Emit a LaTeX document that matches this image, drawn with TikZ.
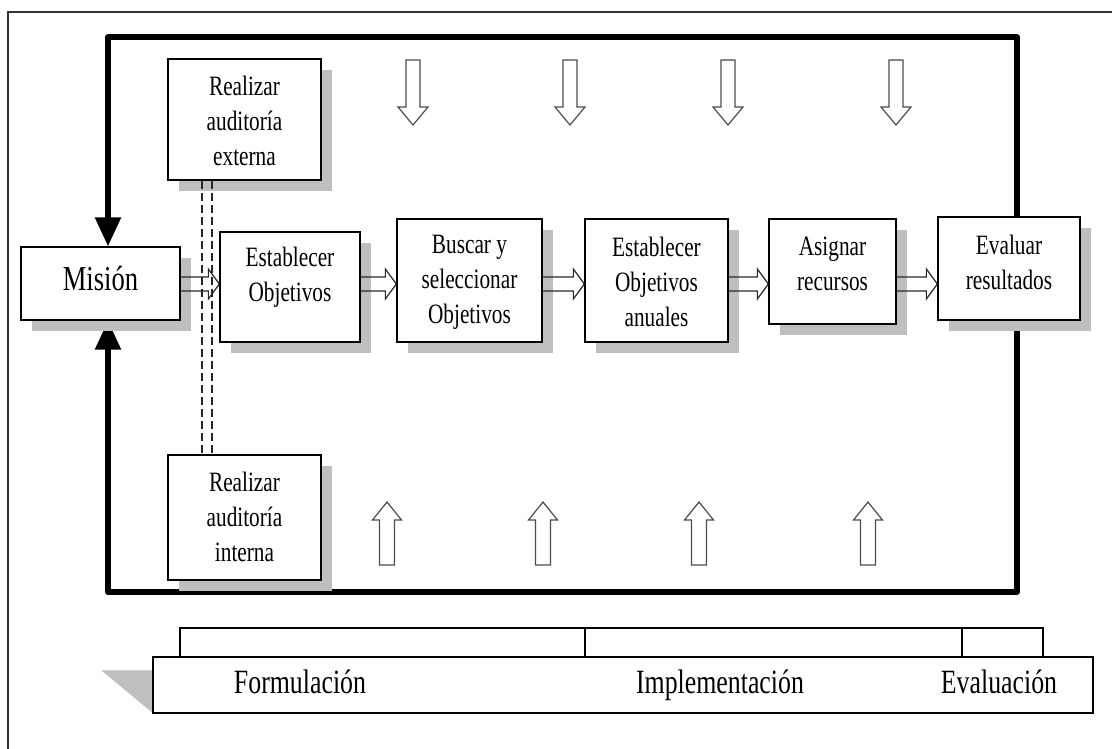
\documentclass[tikz,border=0pt]{standalone}
\usepackage{fontspec}
\newfontfamily\condserif[FakeStretch=0.76]{Liberation Serif}
\usetikzlibrary{arrows.meta,shadows,calc,backgrounds}

% hollow horizontal flow arrow from the east side of #1 to the west side of #2
\newcommand\flowarrow[2]{%
  \draw[flowline] let \p1=(#1.east), \p2=(#2.west) in
    (\x1,-277pt) -- (\x2-11pt,-277pt) -- (\x2-11pt,-269pt) -- (\x2,-284pt)
    -- (\x2-11pt,-299pt) -- (\x2-11pt,-291pt) -- (\x1,-291pt);}

\tikzset{
  frame/.style={draw=black!80,line width=1.3pt},
  loopline/.style={line width=5.5pt,line join=round,
    {Triangle[length=29pt,width=25pt]}-{Triangle[length=29pt,width=25pt]}},
  stepbox/.style={draw=black,line width=1.3pt,fill=white,inner sep=0pt,
    drop shadow={shadow xshift=11pt,shadow yshift=-11pt,fill=black!25,opacity=1}},
  boxtext/.style={font=\condserif\fontsize{28}{35}\selectfont,align=center,inner sep=0pt},
  bigtext/.style={font=\condserif\fontsize{35}{40}\selectfont,inner sep=0pt},
  phasetext/.style={font=\condserif\fontsize{34}{40}\selectfont,inner sep=0pt,anchor=base},
  flowline/.style={draw=black!85,line width=1.2pt,line join=miter},
  blockline/.style={draw=black!70,line width=1.2pt,fill=white,line join=miter},
  dashline/.style={draw=black!85,line width=1.2pt,dash pattern=on 8pt off 4pt},
  bracket/.style={draw=black,line width=1.3pt,inner sep=0pt,minimum height=29pt},
  phasebar/.style={draw=black,line width=1.3pt,fill=white,inner sep=0pt},
  downblock/.pic={\draw[blockline] (0,0) -- (-15,-18) -- (-7,-18) -- (-7,-65)
    -- (7,-65) -- (7,-18) -- (15,-18) -- cycle;},
  upblock/.pic={\draw[blockline] (0,0) -- (-14.5,18) -- (-7.5,18) -- (-7.5,63)
    -- (7.5,63) -- (7.5,18) -- (14.5,18) -- cycle;}
}

\begin{document}
\begin{tikzpicture}[x=1pt,y=-1pt]
\useasboundingbox (0,0) rectangle (1112,749);

% outer frame
\draw[frame] (8,770) -- (8,12) -- (1130,12);

% process boxes
\node[stepbox,minimum width=159pt,minimum height=73pt] (mision) at (100.5,283.5) {};
\node[bigtext] (mision-t) at (100.5,279) {Misión};

\node[stepbox,minimum width=153pt,minimum height=121pt] (ext) at (244.5,119.5) {};
\node[boxtext] (ext-t) at (244.5,121) {Realizar\\auditoría\\externa};

\node[stepbox,minimum width=153pt,minimum height=125pt] (int) at (244.5,517.5) {};
\node[boxtext] (int-t) at (244.5,517) {Realizar\\auditoría\\interna};

\node[stepbox,minimum width=140pt,minimum height=110pt] (est) at (290,287) {};
\node[boxtext] (est-t) at (290,277) {Establecer\\Objetivos};

\node[stepbox,minimum width=145pt,minimum height=123pt] (bus) at (469.5,280.5) {};
\node[boxtext] (bus-t) at (469.5,282) {Buscar y\\seleccionar\\Objetivos};

\node[stepbox,minimum width=143pt,minimum height=123pt] (anu) at (656.5,280.5) {};
\node[boxtext] (anu-t) at (656.5,282) {Establecer\\Objetivos\\anuales};

\node[stepbox,minimum width=127pt,minimum height=105pt] (asi) at (832.5,271.5) {};
\node[boxtext] (asi-t) at (832.5,264) {Asignar\\recursos};

\node[stepbox,minimum width=142pt,minimum height=103pt] (eva) at (1009,268.5) {};
\node[boxtext] (eva-t) at (1009,262) {Evaluar\\resultados};

% feedback loop back into the mission
\coordinate (lt) at (108,37);
\coordinate (rt) at (1017,37);
\coordinate (rb) at (1017,592);
\coordinate (lb) at (108,592);
\begin{scope}[on background layer]
  \draw[loopline] (lb |- mision.south) -- (lb) -- (rb) -- (rt) -- (lt) -- (lt |- mision.north);
\end{scope}

% flow between the steps
\flowarrow{mision}{est}
\flowarrow{est}{bus}
\flowarrow{bus}{anu}
\flowarrow{anu}{asi}
\flowarrow{asi}{eva}

% link between external and internal audit
\draw[dashline] (ext.south -| 202,0) -- (int.north -| 202,0);
\draw[dashline] (ext.south -| 212,0) -- (int.north -| 212,0);

% influences from above and below
\foreach \px in {413,570,728,896} \pic at (\px,125) {downblock};
\foreach \px in {387,543,699,868} \pic at (\px,502) {upblock};

% phases
\node[bracket,minimum width=405pt] (phA) at (382.5,642.5) {};
\node[bracket,minimum width=377pt] (phB) at (773.5,642.5) {};
\node[bracket,minimum width=81pt] (phC) at (1002.5,642.5) {};
\node[phasebar,minimum width=940pt,minimum height=56pt] (bar) at (623,685) {};
\begin{scope}[on background layer]
  \fill[black!25] ($(bar.north west)+(-51,14)$) -- ($(bar.north west)+(0,14)$)
    -- ($(bar.south west)+(0,-1)$) -- cycle;
\end{scope}
\node[phasetext] (fo) at (300,693) {Formulación};
\node[phasetext] (im) at (720,693) {Implementación};
\node[phasetext] (ev) at (999,693) {Evaluación};
\end{tikzpicture}
\end{document}
